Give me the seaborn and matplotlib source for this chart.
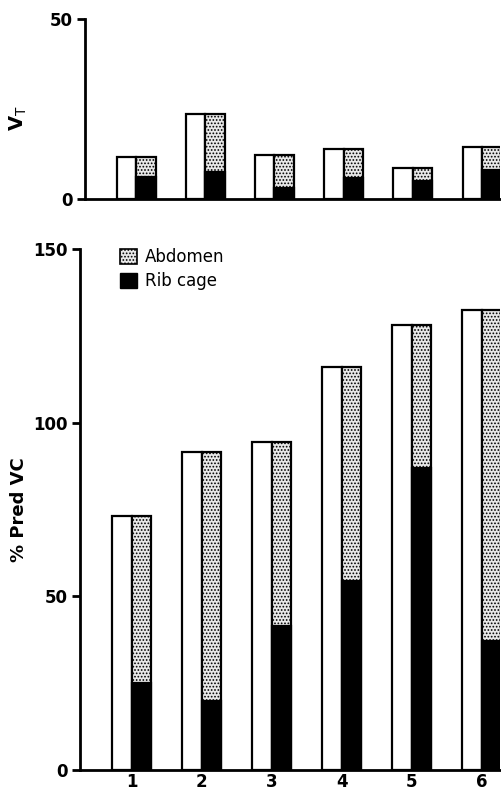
import pandas as pd
import matplotlib.pyplot as plt
import seaborn as sns
from matplotlib.patches import Patch

# values
subjects = ['1', '2', '3', '4', '5', '6']
vt_total = [11.6, 23.6, 12.2, 13.9, 8.5, 14.5]
vt_rib = [6.2, 7.4, 3.0, 5.7, 5.0, 8.1]
vc_total = [73, 91.5, 94.5, 116, 128, 132.5]
vc_rib = [25, 20, 41.5, 54.5, 87, 37]

sns.set_style("ticks", {'axes.edgecolor': 'black', 'text.color': 'black',
                        'xtick.color': 'black', 'ytick.color': 'black',
                        'axes.labelcolor': 'black'})
plt.rcParams['font.family'] = ['DejaVu Sans']
plt.rcParams['hatch.linewidth'] = 0.8

fig = plt.figure(figsize=(5.01, 7.97), dpi=100)
ax_top = fig.add_axes([0.1697, 0.7503, 0.828, 0.2259])
ax_bot = fig.add_axes([0.1597, 0.0339, 0.838, 0.6537])

abd_face = '#e8e8e8'


def draw_panel(ax, total, rib):
    # white bar = total, second bar = abdomen on top of rib cage
    df = pd.DataFrame({
        'subject': subjects * 2,
        'value': list(total) + list(total),
        'kind': ['total'] * 6 + ['split'] * 6,
    })
    sns.barplot(data=df, x='subject', y='value', hue='kind',
                hue_order=['total', 'split'], palette=['white', abd_face],
                width=0.56, edgecolor='black', linewidth=1.6,
                legend=False, ax=ax)
    for bar in ax.patches[6:12]:
        bar.set_hatch('.....')
    df_rib = pd.DataFrame({
        'subject': subjects * 2,
        'value': [0] * 6 + list(rib),
        'kind': ['total'] * 6 + ['split'] * 6,
    })
    sns.barplot(data=df_rib, x='subject', y='value', hue='kind',
                hue_order=['total', 'split'], palette=['white', 'black'],
                width=0.56, edgecolor='black', linewidth=1.6,
                legend=False, ax=ax)
    for bar in ax.patches[12:18]:
        bar.set_linewidth(0)
    ax.set_xlim(-0.74, 5.26)
    sns.despine(ax=ax)
    for s in ['left', 'bottom']:
        ax.spines[s].set_linewidth(2.0)
    ax.tick_params(axis='y', length=6, width=2.0, labelsize=12, pad=3)
    ax.tick_params(axis='x', length=0)
    for lab in ax.get_yticklabels():
        lab.set_fontweight('bold')
    ax.set_xlabel('')


draw_panel(ax_top, vt_total, vt_rib)
ax_top.set_ylim(0, 50)
ax_top.set_yticks([0, 50])
ax_top.set_xticklabels([])
ax_top.set_ylabel(r'$\mathbf{V}_{\mathrm{T}}$', fontsize=14)
ax_top.yaxis.set_label_coords(-0.135, 0.45)

draw_panel(ax_bot, vc_total, vc_rib)
ax_bot.set_ylim(0, 150)
ax_bot.set_yticks([0, 50, 100, 150])
ax_bot.set_xticks(range(6))
ax_bot.set_xticklabels(subjects, fontsize=12, fontweight='bold')
ax_bot.tick_params(axis='x', pad=2)
ax_bot.set_ylabel('% Pred VC', fontsize=13, fontweight='bold')
ax_bot.yaxis.set_label_coords(-0.125, 0.5)

handles = [Patch(facecolor=abd_face, edgecolor='black', hatch='.....', linewidth=1.2),
           Patch(facecolor='black', edgecolor='black')]
ax_bot.legend(handles, ['Abdomen', 'Rib cage'], loc='upper left',
              bbox_to_anchor=(0.06, 1.03), frameon=False, fontsize=12,
              handlelength=1.0, handleheight=1.0, handletextpad=0.5,
              labelspacing=0.35)

fig.savefig('out.png', dpi=100)
